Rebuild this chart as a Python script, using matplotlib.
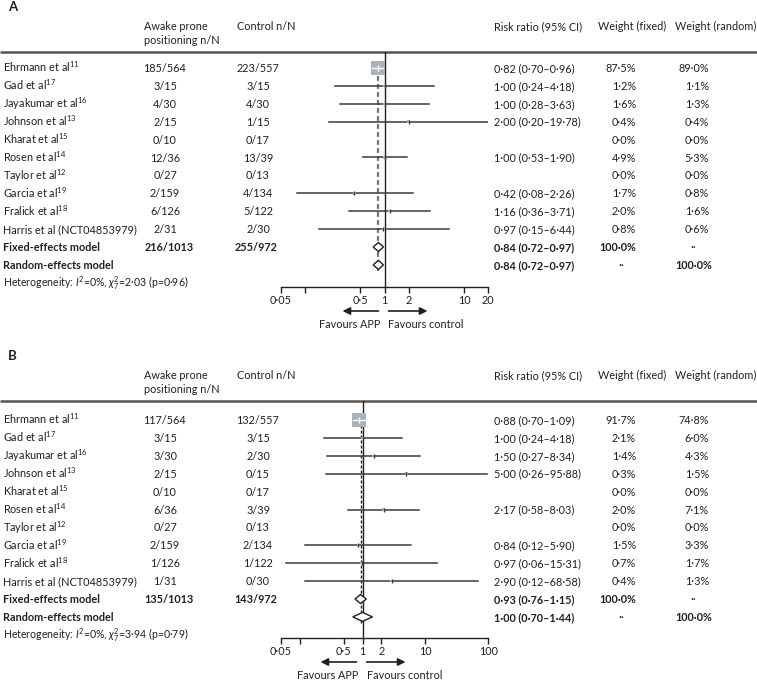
import numpy as np
import matplotlib.pyplot as plt

plt.rcParams['font.family'] = ['Lato', 'DejaVu Sans']
plt.rcParams['mathtext.fontset'] = 'custom'
plt.rcParams['mathtext.rm'] = 'Lato'
plt.rcParams['mathtext.it'] = 'Lato:italic'
plt.rcParams['mathtext.bf'] = 'Lato:bold'

W, H = 757, 681
nan = np.nan
TXT = '#231f20'

studies = ["Ehrmann et al$^{11}$", "Gad et al$^{17}$", "Jayakumar et al$^{16}$",
           "Johnson et al$^{13}$", "Kharat et al$^{15}$", "Rosen et al$^{14}$",
           "Taylor et al$^{12}$", "Garcia et al$^{19}$", "Fralick et al$^{18}$",
           "Harris et al (NCT04853979)"]

# panel A
app_a = ["185/564", "3/15", "4/30", "2/15", "0/10", "12/36", "0/27", "2/159", "6/126", "2/31"]
ctl_a = ["223/557", "3/15", "4/30", "1/15", "0/17", "13/39", "0/13", "4/134", "5/122", "2/30"]
rr_a = [0.82, 1.00, 1.00, 2.00, nan, 1.00, nan, 0.42, 1.16, 0.97]
lo_a = [0.70, 0.24, 0.28, 0.20, nan, 0.53, nan, 0.08, 0.36, 0.15]
hi_a = [0.96, 4.18, 3.63, 19.78, nan, 1.90, nan, 2.26, 3.71, 6.44]
wf_a = [87.5, 1.2, 1.6, 0.4, 0.0, 4.9, 0.0, 1.7, 2.0, 0.8]
wr_a = [89.0, 1.1, 1.3, 0.4, 0.0, 5.3, 0.0, 0.8, 1.6, 0.6]
tot_a = ["216/1013", "255/972"]
fixed_a = [0.84, 0.72, 0.97]
random_a = [0.84, 0.72, 0.97]
het_a = "Heterogeneity: $I^2$=0%, $\\chi^2_7$=2·03 (p=0·96)"
ticks_a = [0.05, 0.1, 0.5, 1, 2, 10, 20]
ticklab_a = ["0·05", "", "0·5", "1", "2", "10", "20"]

# panel B
app_b = ["117/564", "3/15", "3/30", "2/15", "0/10", "6/36", "0/27", "2/159", "1/126", "1/31"]
ctl_b = ["132/557", "3/15", "2/30", "0/15", "0/17", "3/39", "0/13", "2/134", "1/122", "0/30"]
rr_b = [0.88, 1.00, 1.50, 5.00, nan, 2.17, nan, 0.84, 0.97, 2.90]
lo_b = [0.70, 0.24, 0.27, 0.26, nan, 0.58, nan, 0.12, 0.06, 0.12]
hi_b = [1.09, 4.18, 8.34, 95.88, nan, 8.03, nan, 5.90, 15.31, 68.58]
wf_b = [91.7, 2.1, 1.4, 0.3, 0.0, 2.0, 0.0, 1.5, 0.7, 0.4]
wr_b = [74.8, 6.0, 4.3, 1.5, 0.0, 7.1, 0.0, 3.3, 1.7, 1.3]
tot_b = ["135/1013", "143/972"]
fixed_b = [0.93, 0.76, 1.15]
random_b = [1.00, 0.70, 1.44]
het_b = "Heterogeneity: $I^2$=0%, $\\chi^2_7$=3·94 (p=0·79)"
ticks_b = [0.05, 0.1, 0.5, 1, 2, 10, 100]
ticklab_b = ["0·05", "", "0·5", "1", "2", "10", "100"]


def dot(v, fmt):
    return format(v, fmt).replace('.', '·')


fig = plt.figure(figsize=(W / 100, H / 100), dpi=100)
bg = fig.add_axes([0, 0, 1, 1])
bg.set_xlim(0, W)
bg.set_ylim(H, 0)
bg.axis('off')

FS = 7.8
STEP = 17.9
AX_L, AX_R = 280.7, 488.3


def panel(label, lab_y, rule_y, row0, axis_y, app, ctl, rr, lo, hi, wf, wr,
          tot, fixed, random, het, ticks, ticklab, dash_col, dash_lw):
    bg.text(8, lab_y, label, fontsize=9.5, fontweight='bold', color=TXT, va='baseline')
    hy = lab_y + 19
    bg.text(144, hy, "Awake prone", fontsize=FS, color=TXT, va='baseline')
    bg.text(144, hy + 14, "positioning n/N", fontsize=FS, color=TXT, va='baseline')
    bg.text(237, hy, "Control n/N", fontsize=FS, color=TXT, va='baseline')
    bg.text(494, hy, "Risk ratio (95% CI)", fontsize=FS, color=TXT, va='baseline')
    bg.text(598, hy, "Weight (fixed)", fontsize=FS, color=TXT, va='baseline')
    bg.text(675, hy, "Weight (random)", fontsize=FS, color=TXT, va='baseline')
    bg.plot([0, W], [rule_y, rule_y], color='#555555', lw=1.8, solid_capstyle='butt')

    ys = [row0 + i * STEP for i in range(len(studies) + 2)]
    for i, name in enumerate(studies):
        b = ys[i] + 4
        bg.text(3, b, name, fontsize=FS, color=TXT, va='baseline')
        bg.text(165, b, app[i], fontsize=FS, color=TXT, va='baseline', ha='center')
        bg.text(258, b, ctl[i], fontsize=FS, color=TXT, va='baseline', ha='center')
        if not np.isnan(rr[i]):
            bg.text(494, b, dot(rr[i], '.2f') + " (" + dot(lo[i], '.2f') + "–" + dot(hi[i], '.2f') + ")",
                    fontsize=FS, color=TXT, va='baseline')
        bg.text(636, b, dot(wf[i], '.1f') + "%", fontsize=FS, color=TXT, va='baseline', ha='right')
        bg.text(709, b, dot(wr[i], '.1f') + "%", fontsize=FS, color=TXT, va='baseline', ha='right')

    n = len(studies)
    for k, (name, est) in enumerate([("Fixed-effects model", fixed), ("Random-effects model", random)]):
        b = ys[n + k] + 4
        bg.text(3, b, name, fontsize=FS, fontweight='bold', color=TXT, va='baseline')
        if k == 0:
            bg.text(169, b, tot[0], fontsize=FS, fontweight='bold', color=TXT, va='baseline', ha='center')
            bg.text(256, b, tot[1], fontsize=FS, fontweight='bold', color=TXT, va='baseline', ha='center')
            bg.text(636, b, "100·0%", fontsize=FS, fontweight='bold', color=TXT, va='baseline', ha='right')
            bg.text(693, b, "··", fontsize=FS, color=TXT, va='baseline', ha='center')
        else:
            bg.text(621, b, "··", fontsize=FS, color=TXT, va='baseline', ha='center')
            bg.text(712, b, "100·0%", fontsize=FS, fontweight='bold', color=TXT, va='baseline', ha='right')
        bg.text(494, b, dot(est[0], '.2f') + " (" + dot(est[1], '.2f') + "–" + dot(est[2], '.2f') + ")",
                fontsize=FS, fontweight='bold', color=TXT, va='baseline')
    bg.text(3, ys[n + 1] + STEP + 4, het, fontsize=7.6, color=TXT, va='baseline')

    # forest axes
    ax = fig.add_axes([AX_L / W, 1 - axis_y / H, (AX_R - AX_L) / W, (axis_y - rule_y) / H])
    ax.patch.set_alpha(0)
    ax.set_xscale('log')
    ax.set_xlim(ticks[0], ticks[-1])
    ax.set_ylim(axis_y, rule_y)
    for s in ['top', 'left', 'right']:
        ax.spines[s].set_visible(False)
    ax.spines['bottom'].set_color(TXT)
    ax.spines['bottom'].set_linewidth(1)
    ax.set_xticks(ticks)
    ax.set_xticklabels(ticklab)
    ax.minorticks_off()
    ax.set_yticks([])
    ax.tick_params(axis='x', direction='out', length=4.5, width=1, pad=1.5,
                   labelsize=FS, colors=TXT)
    ax.axvline(1, color=TXT, lw=1, zorder=2)
    ax.plot([fixed[0], fixed[0]], [ys[0], ys[n + 1] + 6], color=dash_col, lw=dash_lw,
            ls=(0, (2.2, 1.4)), zorder=2)

    ppd = (AX_R - AX_L) / (np.log10(ticks[-1]) - np.log10(ticks[0]))
    for i in range(n):
        if np.isnan(rr[i]):
            continue
        ax.plot([lo[i], hi[i]], [ys[i], ys[i]], color='#3a3a3a', lw=1.1, zorder=3)
        side = max(15 * np.sqrt(wf[i] / 100), 2.5)
        ax.scatter([rr[i]], [ys[i]], marker='s', s=(side * 0.72) ** 2, color='#a9b3bd',
                   edgecolors='none', zorder=4)
        if side > 6:
            half = side / 2 / ppd
            a = max(lo[i], rr[i] * 10 ** -half)
            c = min(hi[i], rr[i] * 10 ** half)
            ax.plot([a, c], [ys[i], ys[i]], color='white', lw=1, zorder=5)
            ax.plot([rr[i]], [ys[i]], marker='|', ms=4, mew=1, color='white', zorder=5)
        else:
            ax.plot([rr[i]], [ys[i]], marker='|', ms=3.5, mew=1, color='#3a3a3a', zorder=5)

    for k, est in enumerate([fixed, random]):
        y = ys[n + k]
        ax.fill([est[1], est[0], est[2], est[0]], [y, y - 4.5, y, y + 4.5],
                facecolor='white', edgecolor=TXT, lw=1, zorder=6)

    # arrows and captions
    x1 = AX_L - np.log10(ticks[0]) * ppd
    ay = axis_y + 24
    bg.annotate("", xy=(x1 - 42, ay), xytext=(x1 - 6, ay),
                arrowprops=dict(arrowstyle='-|>', color=TXT, lw=1.2, mutation_scale=11,
                                shrinkA=0, shrinkB=0))
    bg.annotate("", xy=(x1 + 43, ay), xytext=(x1 + 4, ay),
                arrowprops=dict(arrowstyle='-|>', color=TXT, lw=1.2, mutation_scale=11,
                                shrinkA=0, shrinkB=0))
    bg.text(x1 - 4, ay + 17, "Favours APP", fontsize=FS, color=TXT, va='baseline', ha='right')
    bg.text(x1 + 4, ay + 17, "Favours control", fontsize=FS, color=TXT, va='baseline')


panel("A", 11, 52, 68, 287, app_a, ctl_a, rr_a, lo_a, hi_a, wf_a, wr_a,
      tot_a, fixed_a, random_a, het_a, ticks_a, ticklab_a, '#777777', 1.6)
panel("B", 360, 401, 420, 638, app_b, ctl_b, rr_b, lo_b, hi_b, wf_b, wr_b,
      tot_b, fixed_b, random_b, het_b, ticks_b, ticklab_b, '#222222', 1.0)

fig.savefig("out.png", dpi=100)
